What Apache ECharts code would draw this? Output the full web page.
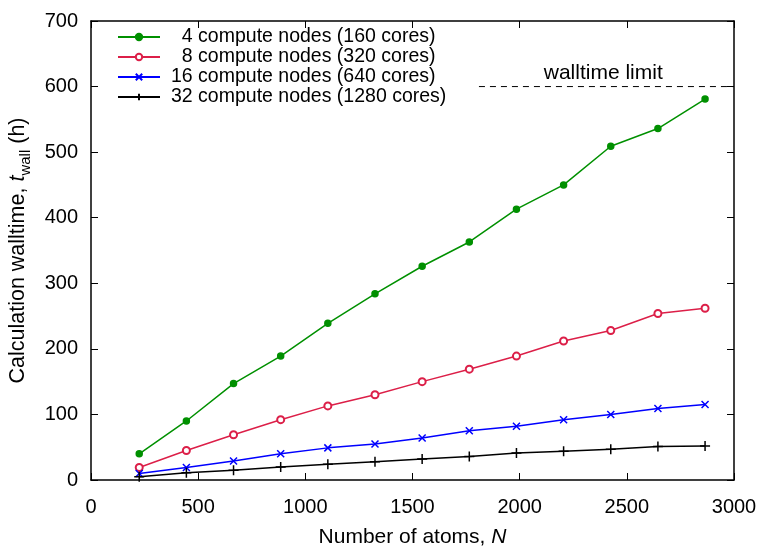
<!DOCTYPE html>
<html>
<head>
<meta charset="utf-8">
<script src="https://cdn.jsdelivr.net/npm/echarts@6/dist/echarts.min.js"></script>
<style>html,body{margin:0;padding:0;background:#fff}#c{width:764px;height:548px}</style>
</head>
<body>
<div id="c"></div>
<script>
const atoms = [225, 445, 665, 885, 1105, 1325, 1545, 1765, 1985, 2205, 2425, 2645, 2865];
const nodes4 = [40, 90, 147, 189, 239, 284, 326, 363, 413, 450, 509, 536, 581];
const nodes8 = [19, 45, 69, 92, 113, 130, 150, 169, 189, 212, 228, 254, 262];
const nodes16 = [10, 19, 29, 40, 49, 55, 64, 75, 82, 92, 100, 109, 115];
const nodes32 = [5, 11, 15, 20, 24, 28, 32, 36, 41, 44, 47, 51, 52];
const seriesNames = ['\u20074 compute nodes (160 cores)', '\u20078 compute nodes (320 cores)', '16 compute nodes (640 cores)', '32 compute nodes (1280 cores)'];
const limitX = [1810, 3000];
const limitY = 600;
const limitLabel = 'walltime limit';
const xTicks = {min: 0, max: 3000, interval: 500};
const yTicks = {min: 0, max: 700, interval: 100};

const font = 'Liberation Sans, Arial, Helvetica, sans-serif';
const pair = ys => atoms.map((x, i) => [x, ys[i]]);
const crossPath = 'path://M0,0L10,10M10,0L0,10';
const plusPath = 'path://M5,0L5,10M0,5L10,5';

const chart = echarts.init(document.getElementById('c'), null, {renderer: 'canvas'});
const axisCommon = {
  axisLine: {show: true, onZero: false, lineStyle: {color: '#000', width: 1.5}},
  axisTick: {show: true, inside: true, length: 7, lineStyle: {color: '#000', width: 1}},
  splitLine: {show: false}
};
function lineSeries(name, data, color, symbol, size) {
  return {
    name, type: 'line', data, xAxisIndex: 0, yAxisIndex: 0,
    symbol, symbolSize: size, showSymbol: true,
    lineStyle: {color, width: 1.5},
    itemStyle: {color, borderColor: color, borderWidth: 1.5},
    emphasis: {disabled: true}, animation: false, z: 3
  };
}
chart.setOption({
  animation: false,
  backgroundColor: '#fff',
  grid: {left: 91, right: 30, top: 21, bottom: 68, containLabel: false, outerBoundsMode: 'none'},
  legend: {
    data: seriesNames,
    orient: 'vertical', left: 112, top: 22,
    itemWidth: 42, itemHeight: 8, itemGap: 0,
    textStyle: {color: '#000', fontSize: 19.5, fontFamily: font, padding: [0, 0, 0, 6]},
    selectedMode: false
  },
  xAxis: [
    Object.assign({type: 'value', position: 'bottom', min: xTicks.min, max: xTicks.max, interval: xTicks.interval,
      name: '{n|Number of atoms, }{i|N}', nameLocation: 'middle', nameGap: 47,
      nameTextStyle: {rich: {n: {fontSize: 21, fontFamily: font, color: '#000'}, i: {fontSize: 21, fontFamily: font, fontStyle: 'italic', color: '#000'}}},
      axisLabel: {color: '#000', fontSize: 20, fontFamily: font, margin: 17, formatter: v => String(v)}
    }, axisCommon),
    Object.assign({type: 'value', position: 'top', min: xTicks.min, max: xTicks.max, interval: xTicks.interval, axisLabel: {show: false}}, axisCommon)
  ],
  yAxis: [
    Object.assign({type: 'value', position: 'left', min: yTicks.min, max: yTicks.max, interval: yTicks.interval,
      name: '{n|Calculation walltime, }{i|t}{s|wall}{n| (h)}', nameLocation: 'middle', nameGap: 54, nameRotate: 90,
      nameTextStyle: {rich: {
        n: {fontSize: 21.5, fontFamily: font, color: '#000', lineHeight: 26, verticalAlign: 'bottom'},
        i: {fontSize: 21.5, fontFamily: font, fontStyle: 'italic', color: '#000', lineHeight: 26, verticalAlign: 'bottom'},
        s: {fontSize: 15, fontFamily: font, color: '#000', lineHeight: 26, verticalAlign: 'bottom', padding: [0, 0, -5, 0]}
      }},
      axisLabel: {color: '#000', fontSize: 20, fontFamily: font, margin: 13, formatter: v => String(v)}
    }, axisCommon),
    Object.assign({type: 'value', position: 'right', min: yTicks.min, max: yTicks.max, interval: yTicks.interval, axisLabel: {show: false}}, axisCommon)
  ],
  series: [
    lineSeries(seriesNames[0], pair(nodes4), '#009000', 'circle', 6),
    lineSeries(seriesNames[1], pair(nodes8), '#dc1f48', 'emptyCircle', 7),
    lineSeries(seriesNames[2], pair(nodes16), '#0000ff', crossPath, 7),
    lineSeries(seriesNames[3], pair(nodes32), '#000000', plusPath, 10),
    {
      name: 'limit', type: 'line', data: limitX.map(x => [x, limitY]), symbol: 'none',
      lineStyle: {color: '#000', width: 1, type: [6, 5]}, silent: true, z: 2
    }
  ]
});
const p = chart.convertToPixel({xAxisIndex: 0, yAxisIndex: 0}, [2390, 620]);
chart.setOption({graphic: [{type: 'text', x: p[0], y: p[1], style: {text: limitLabel, fill: '#000', font: '21px ' + font, textAlign: 'center', textVerticalAlign: 'middle'}}]});
</script>
</body>
</html>
